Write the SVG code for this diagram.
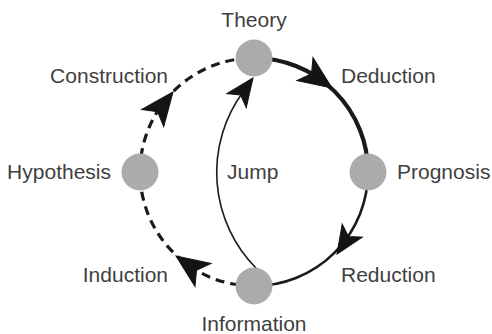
<svg xmlns="http://www.w3.org/2000/svg" xmlns:xlink="http://www.w3.org/1999/xlink" width="492" height="334" viewBox="0 0 492 334">
  <style>
    .lbl { font-family: "Liberation Sans", Arial, sans-serif; font-size: 21px; fill: #3f3f3f; }
    .node { fill: #ababab; }
    .ring { fill: none; stroke: #1a1a1a; }
    .head { fill: #141414; stroke: #141414; stroke-width: 1; stroke-linejoin: miter; }
  </style>
  <defs>
    <!-- barbed arrowheads, tip at origin pointing along +x -->
    <path id="barb" d="M0,0 L-33,-14 L-25,0 L-33,14 Z"/>
    <path id="barb-small" d="M0,0 L-28,-12 L-21,0 L-28,12 Z"/>
  </defs>
  <rect width="492" height="334" fill="#ffffff"/>

  <g id="connectors">
    <!-- Theory to Prognosis -->
    <path class="ring" stroke-width="4.2" d="M254,58 A114,114 0 0 1 368,172"/>
    <!-- Prognosis to Information -->
    <path class="ring" stroke-width="2.6" d="M368,172 A114,114 0 0 1 254,286"/>
    <!-- Information to Hypothesis to Theory (dashed) -->
    <path class="ring" stroke-width="3.2" stroke-dasharray="9 6" d="M254,286 A114,114 0 0 1 140,172"/>
    <path class="ring" stroke-width="3.2" stroke-dasharray="9 6" d="M140,172 A114,114 0 0 1 254,58"/>
    <!-- Jump: Information straight back to Theory -->
    <path class="ring" stroke-width="1.6" d="M256,268 A136,136 0 0 1 243,92"/>

    <use xlink:href="#barb" class="head" transform="translate(332,88) rotate(35)"/>
    <use xlink:href="#barb-small" class="head" transform="translate(337,254) rotate(123)"/>
    <use xlink:href="#barb" class="head" transform="translate(176,256) rotate(215)"/>
    <use xlink:href="#barb" class="head" transform="translate(173,92) rotate(308)"/>
    <use xlink:href="#barb-small" class="head" transform="translate(253,78) rotate(306)"/>
  </g>

  <g id="theory">
    <circle class="node" cx="254" cy="58" r="18.5"/>
    <text class="lbl" x="254" y="27" text-anchor="middle">Theory</text>
  </g>
  <g id="prognosis">
    <circle class="node" cx="368" cy="172" r="18.5"/>
    <text class="lbl" x="397" y="179">Prognosis</text>
  </g>
  <g id="information">
    <circle class="node" cx="254" cy="286" r="18.5"/>
    <text class="lbl" x="254" y="331" text-anchor="middle">Information</text>
  </g>
  <g id="hypothesis">
    <circle class="node" cx="140" cy="172" r="18.5"/>
    <text class="lbl" x="111" y="179" text-anchor="end">Hypothesis</text>
  </g>

  <g id="edge-labels">
    <text class="lbl" x="168" y="83" text-anchor="end">Construction</text>
    <text class="lbl" x="341" y="83">Deduction</text>
    <text class="lbl" x="227" y="179">Jump</text>
    <text class="lbl" x="168" y="282" text-anchor="end">Induction</text>
    <text class="lbl" x="341" y="282">Reduction</text>
  </g>
</svg>
